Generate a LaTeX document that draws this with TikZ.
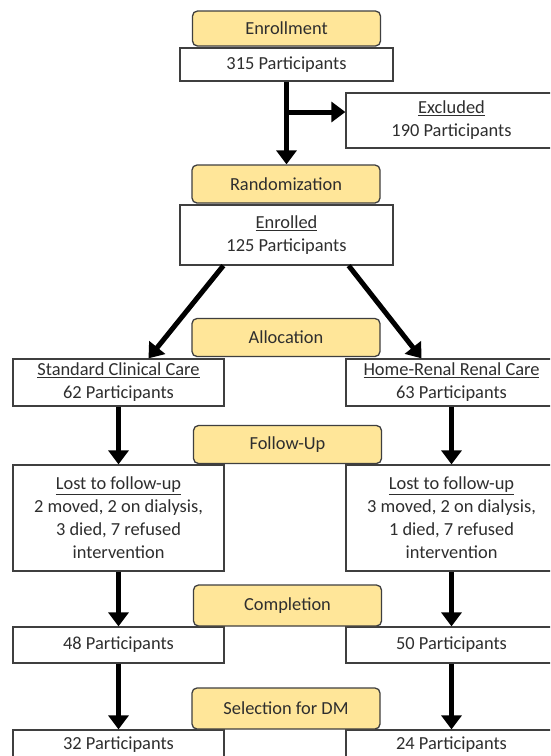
\documentclass[tikz,border=0pt]{standalone}
\usepackage{fontspec}
\setmainfont{Carlito}
\usetikzlibrary{arrows.meta}
\definecolor{phasefill}{HTML}{FFE699}
\definecolor{edge}{HTML}{3F3F3F}

\begin{document}
\begin{tikzpicture}
  [x=1pt,y=-1pt,
   every node/.style={font=\fontsize{18.4}{23}\selectfont,text=black!82,inner sep=0pt,align=center},
   phase/.style={draw=edge,fill=phasefill,rounded corners=5pt,line width=1.3pt,minimum width=188pt,minimum height=38pt},
   box/.style={draw=edge,fill=white,line width=1.3pt,minimum width=211pt},
   arr/.style={line width=5pt,-{Triangle[width=20pt,length=14pt]}}]
  \useasboundingbox (0,0) rectangle (550,756);
  \clip (0,0) rectangle (550,756);
  \fill[white] (0,0) rectangle (550,756);

  % boxes
  \node[box,minimum width=213pt,minimum height=33pt] (total) at (286.5,64.5) {315 Participants};
  \node[box,minimum height=55pt] (excl) at (451.5,120.5) {\underline{Excluded}\\190 Participants};
  \node[box,minimum width=213pt,minimum height=60pt] (enrolled) at (286.5,235) {\underline{Enrolled}\\125 Participants};
  \node[box,minimum height=47pt] (stdcare) at (118.5,382.5) {\underline{Standard Clinical Care}\\62 Participants};
  \node[box,minimum height=47pt] (homecare) at (451.5,382.5) {\underline{Home-Renal Renal Care}\\63 Participants};
  \node[box,minimum height=106pt] (lostL) at (118.5,518) {\underline{Lost to follow-up}\\2 moved, 2 on dialysis,\\3 died, 7 refused\\intervention};
  \node[box,minimum height=106pt] (lostR) at (451.5,518) {\underline{Lost to follow-up}\\3 moved, 2 on dialysis,\\1 died, 7 refused\\intervention};
  \node[box,minimum height=36pt] (doneL) at (118.5,645) {48 Participants};
  \node[box,minimum height=36pt] (doneR) at (451.5,645) {50 Participants};
  \node[box,minimum height=30pt] (dmL) at (118.5,745) {32 Participants};
  \node[box,minimum height=30pt] (dmR) at (451.5,745) {24 Participants};

  % phases
  \node[phase,minimum height=35pt] (enroll) at (286.5,28.5) {Enrollment};
  \node[phase] (random) at (286,184) {Randomization};
  \node[phase] (alloc) at (286,337.5) {Allocation};
  \node[phase] (follow) at (287.5,444.5) {Follow-Up};
  \node[phase,minimum height=41pt] (complete) at (287.5,605.5) {Completion};
  \node[phase,minimum height=41pt] (select) at (286,708.5) {Selection for DM};

  % arrows
  \coordinate (split) at (286.5,112);
  \draw[arr] (total.south) -- (total.south |- random.north);
  \draw[arr] (split) -- (split -| excl.west);
  \draw[arr] ([xshift=44pt]enrolled.south west) -- ([xshift=30pt]stdcare.north);
  \draw[arr] ([xshift=-45pt]enrolled.south east) -- ([xshift=-30pt]homecare.north);
\foreach \from/\to in
{stdcare/lostL, homecare/lostR, lostL/doneL, lostR/doneR, doneL/dmL, doneR/dmR}
    \draw[arr] (\from) -- (\to);

\end{tikzpicture}
\end{document}
